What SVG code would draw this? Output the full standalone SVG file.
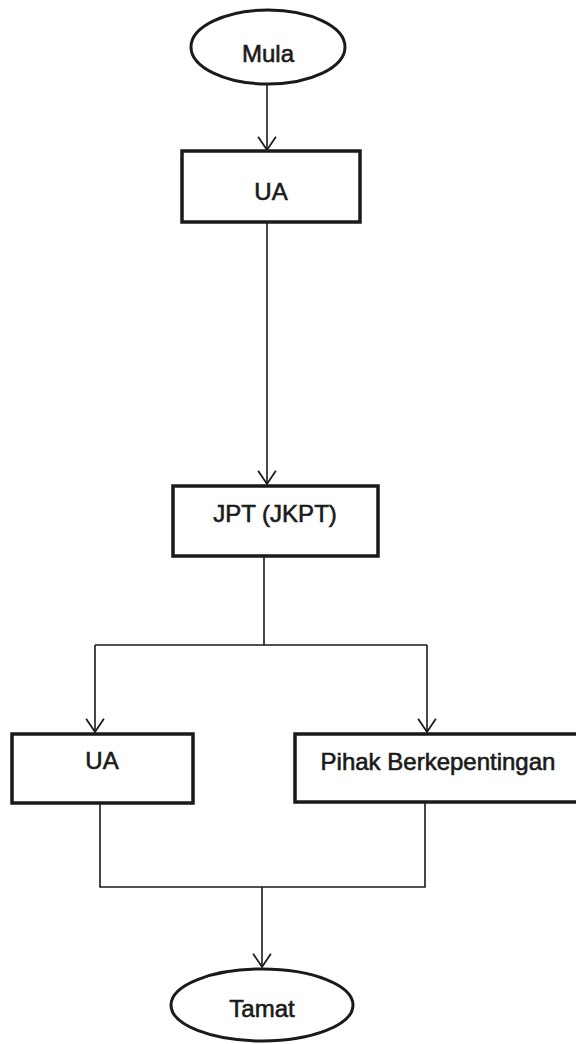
<svg xmlns="http://www.w3.org/2000/svg" width="576" height="1044" viewBox="0 0 576 1044">
<style>
.box{fill:#fff;stroke:#1a1a1a;stroke-width:3.5}
.term{fill:#fff;stroke:#1a1a1a;stroke-width:3}
.lbl{font-family:"Liberation Sans",Arial,sans-serif;font-size:24px;fill:#1a1a1a;text-anchor:middle;stroke:#1a1a1a;stroke-width:0.6}
.ln{fill:none;stroke:#1a1a1a;stroke-width:1.6}
</style>
<defs>
<marker id="arr" markerWidth="20" markerHeight="20" refX="13" refY="9" orient="auto" markerUnits="userSpaceOnUse" viewBox="0 0 14 18">
<path d="M1,1 L13,9 L1,17" fill="none" stroke="#1a1a1a" stroke-width="1.6"/>
</marker>
</defs>
<g id="connectors">
<path class="ln" d="M267,85 V150" marker-end="url(#arr)"/>
<path class="ln" d="M267,222 V484" marker-end="url(#arr)"/>
<path class="ln" d="M264,556 V645 M95,645 H427"/>
<path class="ln" d="M95,645 V732" marker-end="url(#arr)"/>
<path class="ln" d="M427,645 V732" marker-end="url(#arr)"/>
<path class="ln" d="M100,803 V887 H425 V802"/>
<path class="ln" d="M262,887 V967" marker-end="url(#arr)"/>
</g>
<g id="mula">
<ellipse class="term" cx="268" cy="47" rx="77" ry="37"/>
<text class="lbl" x="268" y="62">Mula</text>
</g>
<g id="ua1">
<rect class="box" x="182" y="151" width="178" height="71"/>
<text class="lbl" x="271" y="200">UA</text>
</g>
<g id="jpt">
<rect class="box" x="173" y="486" width="205" height="70"/>
<text class="lbl" x="275" y="522">JPT (JKPT)</text>
</g>
<g id="ua2">
<rect class="box" x="12" y="734" width="181" height="69"/>
<text class="lbl" x="102" y="769">UA</text>
</g>
<g id="pihak">
<rect class="box" x="295" y="734" width="290" height="68"/>
<text class="lbl" x="438" y="770">Pihak Berkepentingan</text>
</g>
<g id="tamat">
<ellipse class="term" cx="262" cy="1005" rx="91" ry="36"/>
<text class="lbl" x="262" y="1017">Tamat</text>
</g>
</svg>
